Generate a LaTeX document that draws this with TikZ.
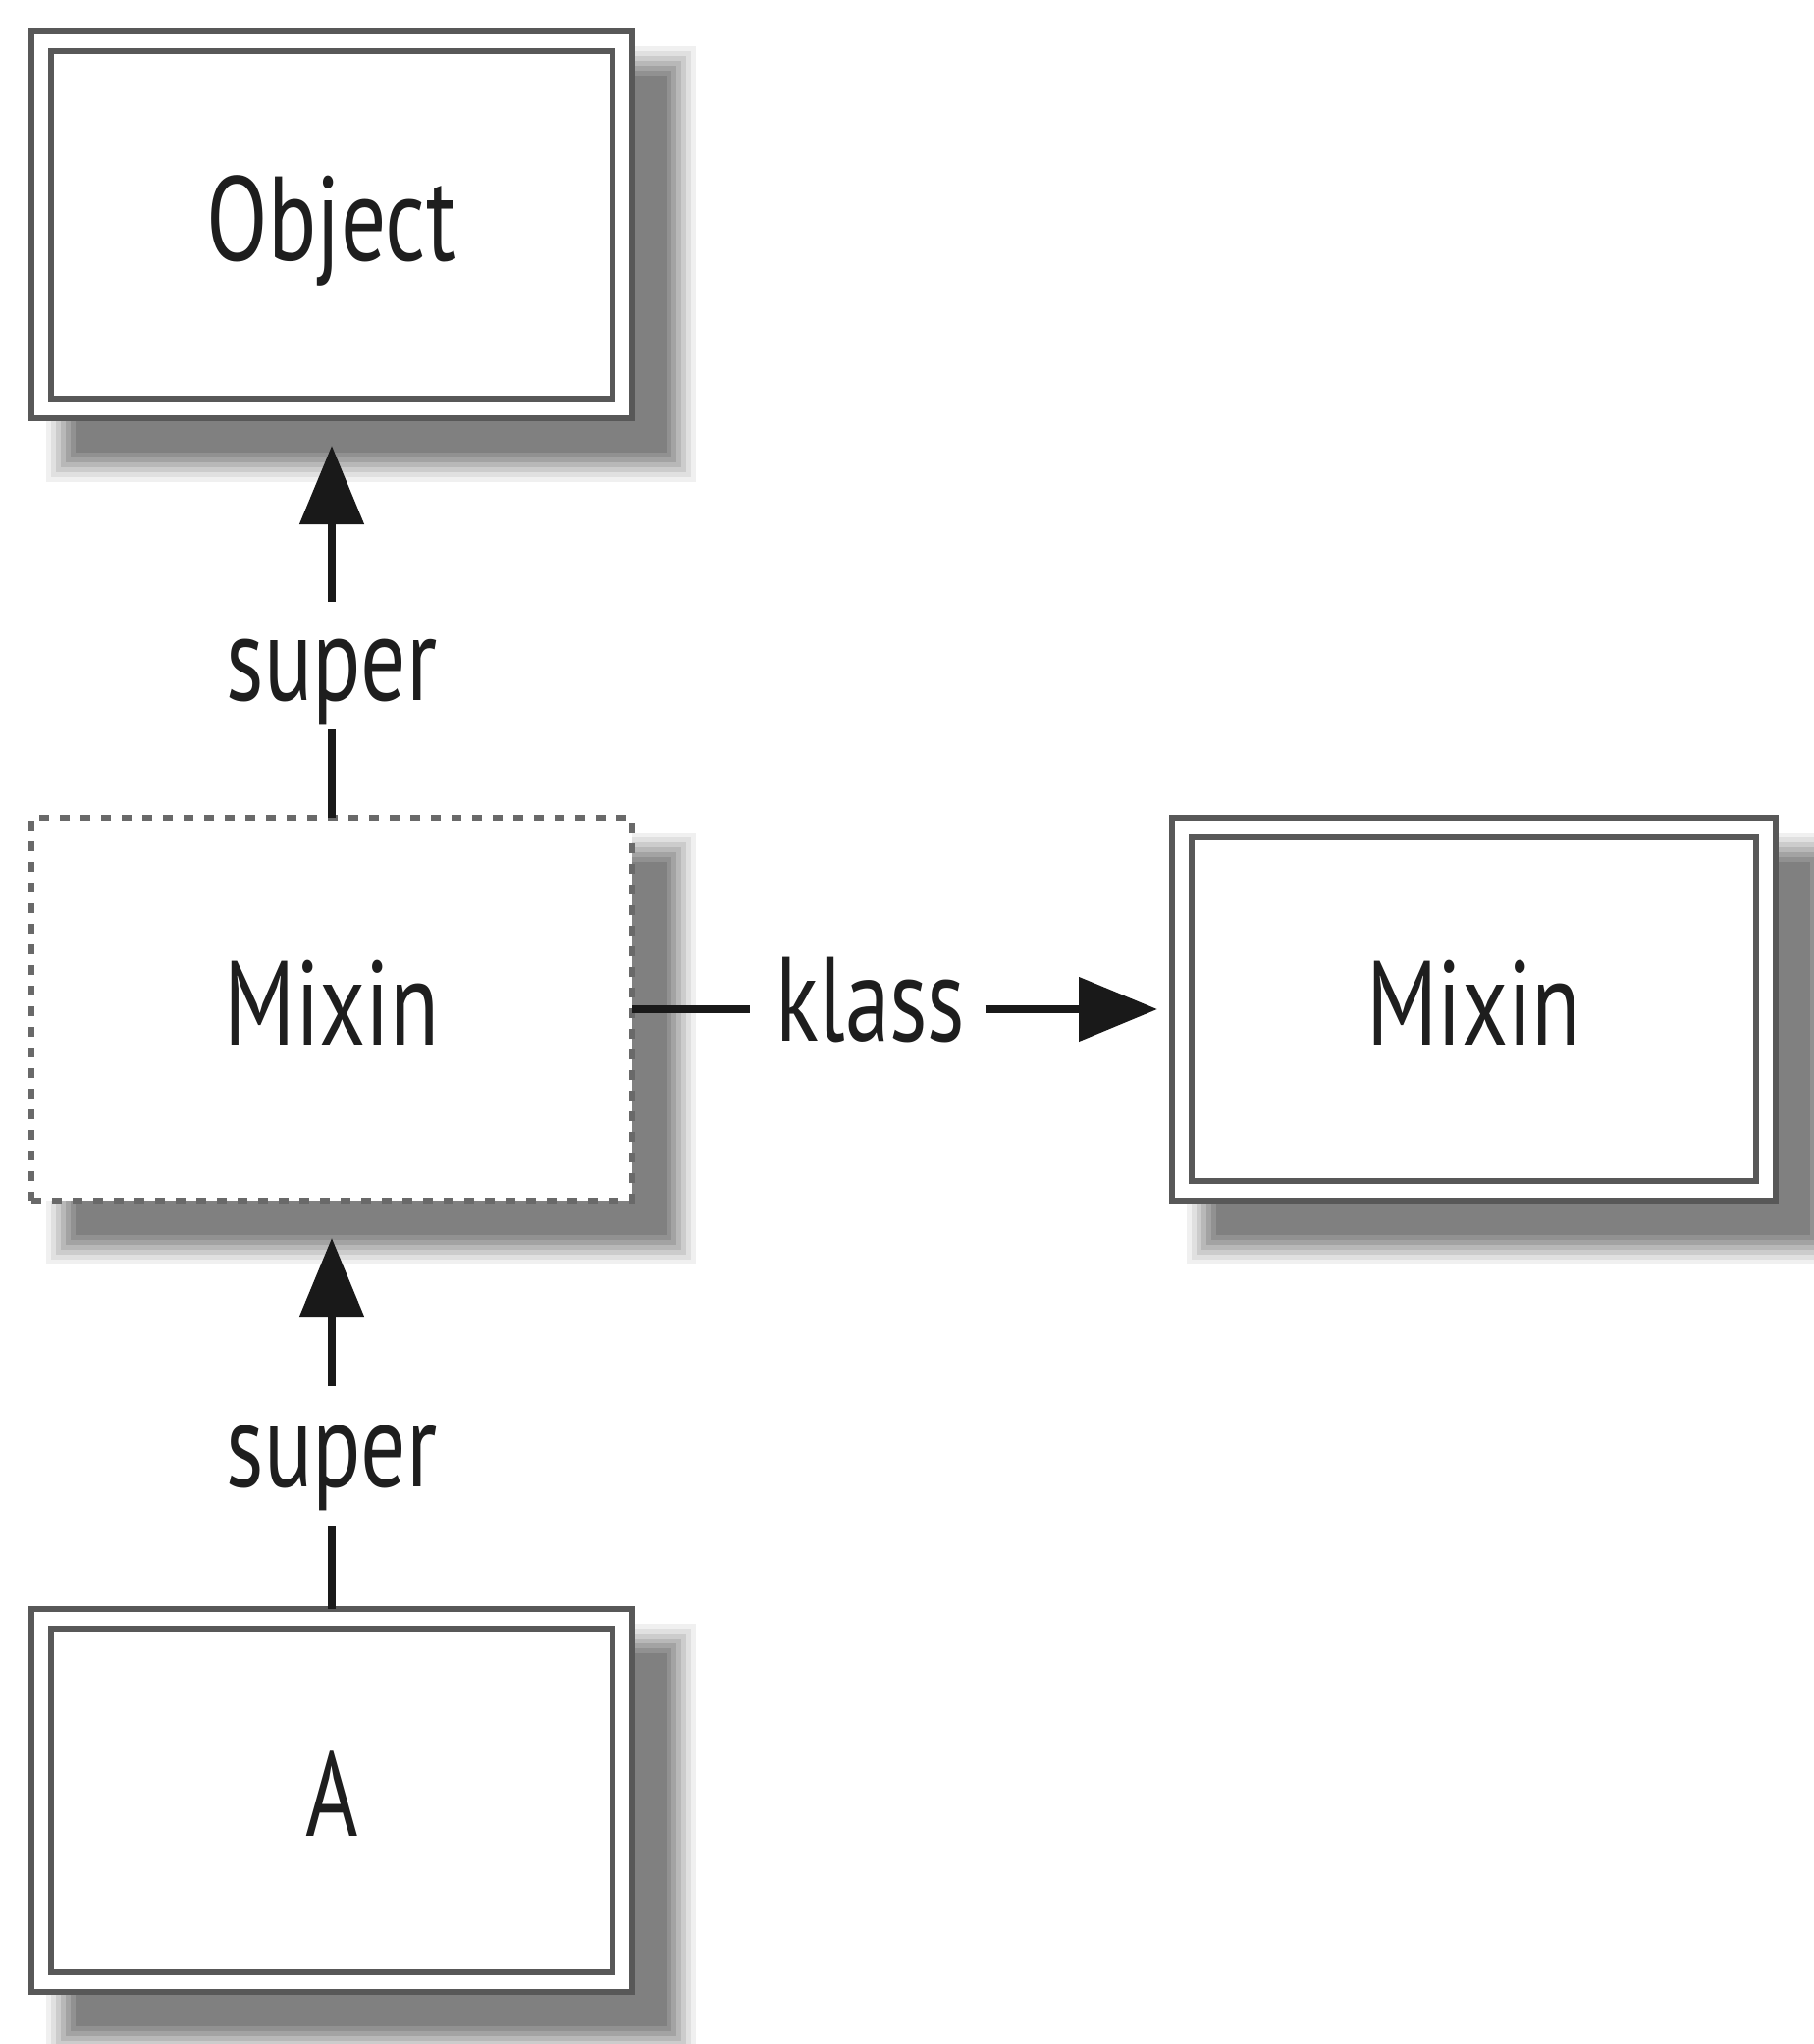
\documentclass[tikz,border=0pt]{standalone}
\usepackage{fontspec}
\setmainfont{PT Sans}[FakeStretch=0.75]
\usetikzlibrary{arrows.meta}
\pgfdeclarelayer{background}
\pgfsetlayers{background,main}
\definecolor{boxline}{RGB}{88,88,88}
\definecolor{txt}{RGB}{30,30,30}
\begin{document}
\begin{tikzpicture}[x=0.5pt,y=0.5pt,
  font=\fontsize{61}{61}\selectfont,
  cls/.style={draw=boxline, line width=3pt, fill=white, minimum width=306pt, minimum height=195pt, outer sep=0pt, inner sep=0pt, text=txt, text height=43pt, text depth=7pt},
  ghost/.style={draw=boxline!90, line width=3pt, dash pattern=on 5pt off 5.5pt, fill=white, minimum width=306pt, minimum height=195pt, outer sep=0pt, inner sep=0pt, text=txt, text height=43pt, text depth=7pt},
  lbl/.style={inner sep=0pt, outer sep=0pt, text=txt, anchor=base},
  conn/.style={line width=4pt, draw=black!90},
  tip/.style={-{Triangle[length=40pt,width=32pt]}}
]
\useasboundingbox (0,0) rectangle (1847,-2082);
% boxes
\node[cls, minimum height=197pt] (obj) at (338,-229) {Object};
\node[ghost] (mx) at (338,-1028) {Mixin};
\node[cls, minimum width=307.5pt] (mk) at (1501.5,-1028) {Mixin};
\node[cls] (a) at (338,-1834) {A};
\foreach \n in {obj,mk,a}
  \draw[boxline, line width=3pt] ([shift={(20,-20)}]\n.north west) rectangle ([shift={(-20,20)}]\n.south east);
% labels
\node[lbl] (s1) at (338,-713) {super};
\node[lbl] (s2) at (338,-1514) {super};
\node[lbl] (kl) at (887,-1060) {klass};
% connectors
\draw[conn, shorten >=3pt] (mx.north) -- (s1.south);
\draw[conn, tip, shorten <=19pt, shorten >=14pt] (s1.north) -- (obj.south);
\draw[conn, shorten >=8pt] (a.north) -- (s2.south);
\draw[conn, tip, shorten <=20pt, shorten >=19pt] (s2.north) -- (mx.south);
\draw[conn, shorten >=13.5pt] (mx.east) -- (mx.east -| kl.west);
\draw[conn, tip, shorten <=10pt, shorten >=7.5pt] (mx.east -| kl.east) -- (mk.west);
% shadows
\begin{pgfonlayer}{background}
\fill[white] (0,0) rectangle (1847,-2082);
\foreach \n in {obj,mx,mk,a}{
  \foreach \p/\q/\c in {15/65/6, 20/60/12, 25/55/20, 30/50/28, 35/45/36, 40/40/43, 45/35/50}{
    \fill[black!\c] ([shift={(\p,-\p)}]\n.north west) rectangle ([shift={(\q,-\q)}]\n.south east);
  }
}
\end{pgfonlayer}
\end{tikzpicture}
\end{document}
